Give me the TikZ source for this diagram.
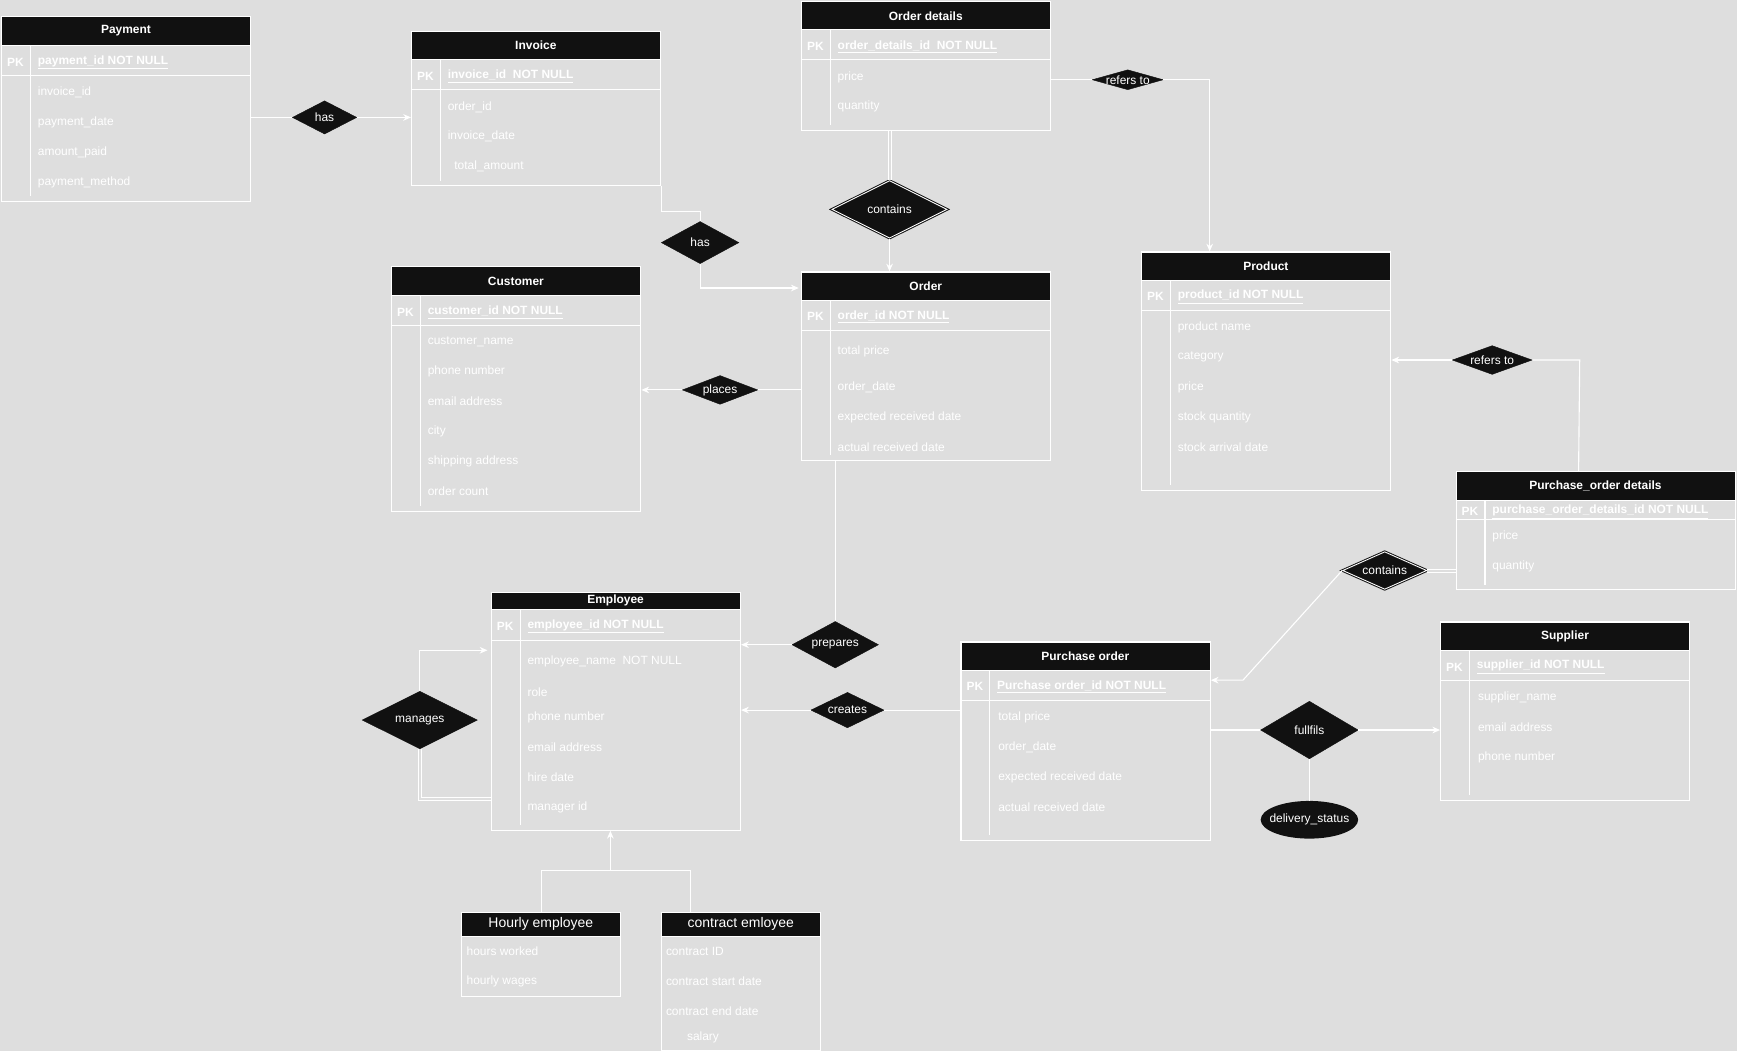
\documentclass[tikz,border=0pt]{standalone}
\usepackage{fontspec}
\setmainfont{Liberation Sans}
\usetikzlibrary{shapes.geometric,arrows.meta,calc}
\definecolor{bg}{HTML}{DEDEDE}
\definecolor{hdr}{HTML}{111111}
\newcommand\fs{\fontsize{10.8}{12}\selectfont}
\newcommand\zw[1]{\makebox[0pt]{#1}}
\tikzset{
  ln/.style={draw=white, line width=1pt},
  arr/.style={ln, -{Stealth[length=7pt,width=6pt]}},
  dbl/.style={draw=white, line width=0.9pt, double=bg, double distance=1.8pt},
  tbox/.style={draw=white, line width=1pt, inner sep=0pt, anchor=north west},
  hdrbox/.style={fill=hdr, inner sep=0pt, anchor=north west, text=white, font=\bfseries\fs},
  hdrplain/.style={fill=hdr, inner sep=0pt, anchor=north west, text=white, font=\fontsize{12.6}{14}\selectfont},
  attr/.style={anchor=west, inner sep=0pt, text=white, font=\fs, yshift=-1.5pt},
  pkname/.style={attr, font=\bfseries\fs},
  pkl/.style={inner sep=0pt, text=white, font=\bfseries\fs, yshift=-1.5pt},
  rel/.style={diamond, fill=hdr, draw=hdr, inner sep=0pt, text=white, font=\fs},
  wrel/.style={rel, double=white, double distance=0.8pt, line width=0.9pt},
}
% name, x, y, w, h, header height, pk height, title, pk
\newcommand\ertable[9]{%
  \node[hdrbox, minimum width=#4pt, minimum height=#6pt] (#1-h) at (#2,#3) {#8};
  \node[tbox, minimum width=#4pt, minimum height=#5pt] (#1) at (#2,#3) {};
  \draw[ln] (#2,#3+#6) -- ++(#4,0);
  \draw[ln] (#2,#3+#6+#7) -- ++(#4,0);
  \draw[ln] (#2+26.5,#3+#6) -- (#2+26.5,#3+#5-4);
  \node[pkl] (#1-pkl) at (#2+13,#3+#6+#7/2) {PK};
  \node[pkname] (#1-pk) at (#2+33,#3+#6+#7/2) {\underline{#9}};
}
% name, x offset of text, list y/text
\newcommand\errows[3]{%
  \foreach \yy/\rt [count=\i] in {#3} {\node[attr] (#1-r\i) at (#2,\yy) {\rt};}
}
\begin{document}
\begin{tikzpicture}[x=1pt,y=-1pt]
\useasboundingbox (0,0) rectangle (1568,949);
\fill[bg] (0,0) rectangle (1568,949);

% ---------- tables ----------
\ertable{payment}{1}{14}{225}{167}{27}{27}{Payment}{payment\_id NOT NULL}
\errows{payment}{34}{82/invoice\_id, 109/payment\_date, 136/amount\_paid, 163/payment\_method}

\ertable{invoice}{371}{28}{225}{139}{26}{27}{Invoice}{invoice\_id~ NOT NULL}
\errows{invoice}{404}{95/order\_id, 122/invoice\_date, 149/\hspace{6pt}total\_amount}

\ertable{od}{723}{1}{225}{116}{26}{27}{Order details}{order\_details\_id~ NOT NULL}
\errows{od}{756}{68/price, 95/quantity}

\ertable{order}{723}{245}{225}{170}{26}{27}{Order}{order\_id NOT NULL}
\errows{order}{756}{316/total price, 348/order\_date, 375/expected received date, 402/actual received date}

\ertable{customer}{353}{240}{225}{221}{27}{27}{Customer}{customer\_id NOT NULL}
\errows{customer}{386}{307/customer\_name, 334/phone number, 361/email address, 388/city, 415/shipping address, 442/order count}

\ertable{product}{1030}{227}{225}{215}{26}{27}{Product}{product\_id NOT NULL}
\errows{product}{1063}{294/product name, 321/category, 348/price, 375/stock quantity, 402/stock arrival date}

\ertable{pod}{1314}{425}{252}{107}{27}{17}{Purchase\_order details}{purchase\_order\_details\_id NOT NULL}
\errows{pod}{1347}{483/price, 510/quantity}

\ertable{employee}{443}{534}{225}{215}{16}{28}{Employee}{employee\_id NOT NULL}
\errows{employee}{476}{596/employee\_name~ NOT NULL, 623/role, 646/phone number, 673/email address, 700/hire date, 727/manager id}

\ertable{po}{867}{579}{225}{179}{26}{27}{Purchase order}{Purchase order\_id NOT NULL}
\errows{po}{901}{646/total price, 673/order\_date, 700/expected received date, 727/actual received date}

\ertable{supplier}{1300}{561}{225}{161}{26}{27}{Supplier}{supplier\_id NOT NULL}
\errows{supplier}{1334}{628/supplier\_name, 655/email address, 682/phone number}

% subtype tables
\node[hdrplain, minimum width=144pt, minimum height=22pt] (hourly-h) at (416,823) {Hourly employee};
\node[tbox, minimum width=144pt, minimum height=76pt] (hourly) at (416,823) {};
\draw[ln] (416,845) -- ++(144,0);
\errows{hourly}{421}{857/hours worked, 884/hourly wages}

\node[hdrplain, minimum width=143pt, minimum height=22pt] (contract-h) at (597,823) {contract emloyee};
\node[tbox, minimum width=143pt, minimum height=125pt] (contract) at (597,823) {};
\draw[ln] (597,845) -- ++(143,0);
\errows{contract}{601}{857/contract ID, 884/contract start date, 911/contract end date, 935/\hspace{19pt}salary}

% ---------- relationships ----------
\node[rel, minimum width=58pt, minimum height=30pt] (has1) at (293,106) {\zw{has}};
\node[rel, minimum width=70pt, minimum height=38pt] (has2) at (632,219) {\zw{has}};
\node[wrel, minimum width=104pt, minimum height=52pt] (cont1) at (803,189) {\zw{contains}};
\node[rel, minimum width=64pt, minimum height=18pt] (rt1) at (1018,72) {\zw{refers to}};
\node[rel, minimum width=68pt, minimum height=26pt] (pl) at (650,352) {\zw{places}};
\node[rel, minimum width=78pt, minimum height=42pt] (prep) at (754,582) {\zw{prepares}};
\node[rel, minimum width=66pt, minimum height=32pt] (cr) at (765,641) {\zw{creates}};
\node[rel, minimum width=104pt, minimum height=52pt] (mg) at (379,650) {\zw{manages}};
\node[rel, minimum width=72pt, minimum height=26pt] (rt2) at (1347,325) {\zw{refers to}};
\node[wrel, minimum width=76pt, minimum height=34pt] (ct2) at (1250,515) {\zw{contains}};
\node[rel, minimum width=88pt, minimum height=52pt] (ff) at (1182,659) {\zw{fullfils}};
\node[ellipse, fill=hdr, inner sep=0pt, text=white, font=\fs, minimum width=88pt, minimum height=34pt] (ds) at (1182,740) {\zw{delivery\_status}};

% ---------- connectors ----------
\draw[ln] (payment.east |- has1.west) -- (has1.west);
\draw[arr] (has1.east) -- (has1.east -| invoice.west);

\draw[ln] (invoice.south east) -- ++(0,23) -| (has2.north);
\draw[arr] (has2.south) |- ($(order.north west)+(-2,15)$);

\draw[dbl] (cont1.north |- od.south) -- (cont1.north);
\draw[arr] (cont1.south) -- (cont1.south |- order.north);

\draw[ln] (od.east |- rt1.west) -- (rt1.west);
\draw[arr] (rt1.east) -| ($(product.north west)+(62,0)$);

\draw[ln] (order.west |- pl.east) -- (pl.east);
\draw[arr] (pl.west) -- (pl.west -| customer.east);

\draw[ln] (prep.north |- order.south) -- (prep.north);
\draw[arr] (prep.west) -- (prep.west -| employee.east);

\draw[ln] (po.west |- cr.east) -- (cr.east);
\draw[arr] (cr.west) -- (cr.west -| employee.east);

\draw[arr] (mg.north) |- ($(employee.north west)+(-3,53)$);
\draw[dbl] (mg.south) |- ($(employee.north west)+(0,187)$);

\coordinate (inh) at (551,786);
\draw[ln] (hourly.north) |- (inh) -| ($(contract.north west)+(26,0)$);
\draw[arr] (inh) -- (inh |- employee.south);

\coordinate (rtc) at (1426,325);
\draw[arr] (rt2.west) -- (rt2.west -| product.east);
\draw[ln] (rt2.east) -- (rtc) -- ($(pod.north west)+(111,0)$);

\coordinate (ctc) at (1122,614);
\draw[dbl] (ct2.east) -- (ct2.east -| pod.west);
\draw[arr] (ct2.west) -- (ctc) -- (ctc -| po.east);

\draw[ln] (po.east |- ff.west) -- (ff.west);
\draw[arr] (ff.east) -- (ff.east -| supplier.west);
\draw[ln] (ff.south) -- (ds.north);
\end{tikzpicture}
\end{document}
